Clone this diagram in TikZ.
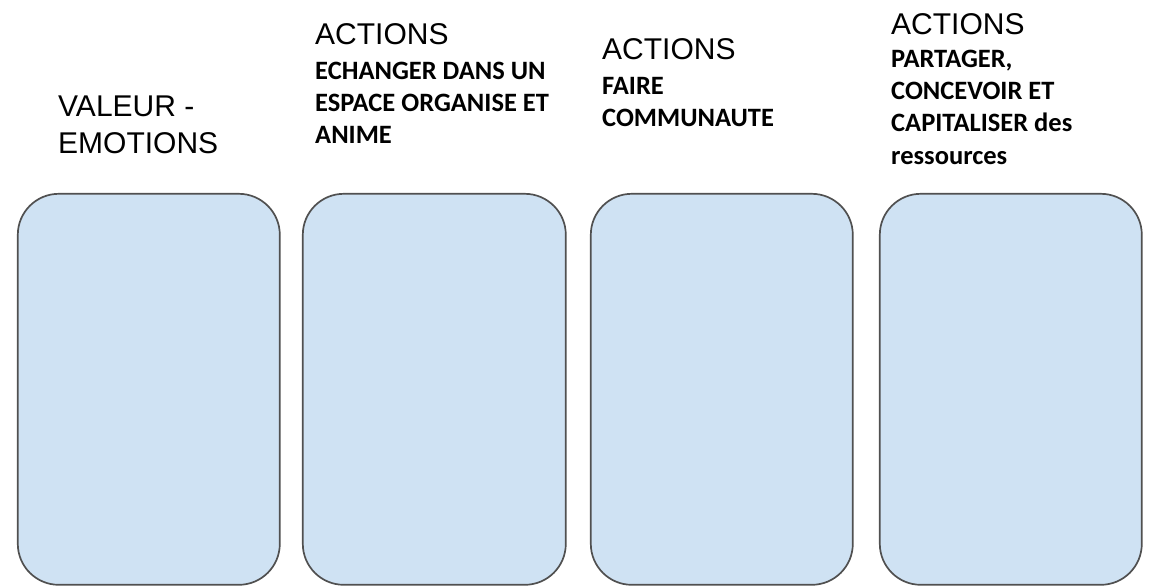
\documentclass[tikz,border=0pt]{standalone}
\usepackage{fontspec}
\setmainfont{Liberation Sans}
\newfontfamily\bodyfont{Carlito}
\definecolor{boxfill}{HTML}{CFE2F3}
\definecolor{boxline}{HTML}{505050}
\tikzset{
  card/.style={draw=boxline, fill=boxfill, line width=1.7pt, rounded corners=41pt,
    anchor=north west, inner sep=0pt, outer sep=0pt,
    minimum width=262pt, minimum height=391pt},
  headtext/.style={anchor=north west, inner sep=0pt, align=left,
    font=\fontsize{30}{36.5}\selectfont},
  bodytext/.style={anchor=north west, inner sep=0pt, align=left,
    font=\bodyfont\bfseries\fontsize{26.5}{32.2}\selectfont},
}
\begin{document}
\begin{tikzpicture}[x=1pt,y=-1pt]
\useasboundingbox (0,0) rectangle (1151,587);
% cards
\node[card] (b1) at (17.8,193.8) {};
\node[card, minimum width=263pt] (b2) at (302.8,193.8) {};
\node[card] (b3) at (590.8,193.8) {};
\node[card] (b4) at (879.8,193.8) {};
% column 1
\node[headtext] (v1) at (58,96) {VALEUR -\\EMOTIONS};
% column 2
\node[headtext] (t2) at (315,23) {ACTIONS};
\node[bodytext] (d2) at (315,62) {ECHANGER DANS UN\\ESPACE ORGANISE ET\\ANIME};
% column 3
\node[headtext] (t3) at (602,38) {ACTIONS};
\node[bodytext] (d3) at (602,77) {FAIRE\\COMMUNAUTE};
% column 4
\node[headtext] (t4) at (891,13) {ACTIONS};
\node[bodytext] (d4) at (891,50) {PARTAGER,\\CONCEVOIR ET\\CAPITALISER des\\ressources};
\end{tikzpicture}
\end{document}
